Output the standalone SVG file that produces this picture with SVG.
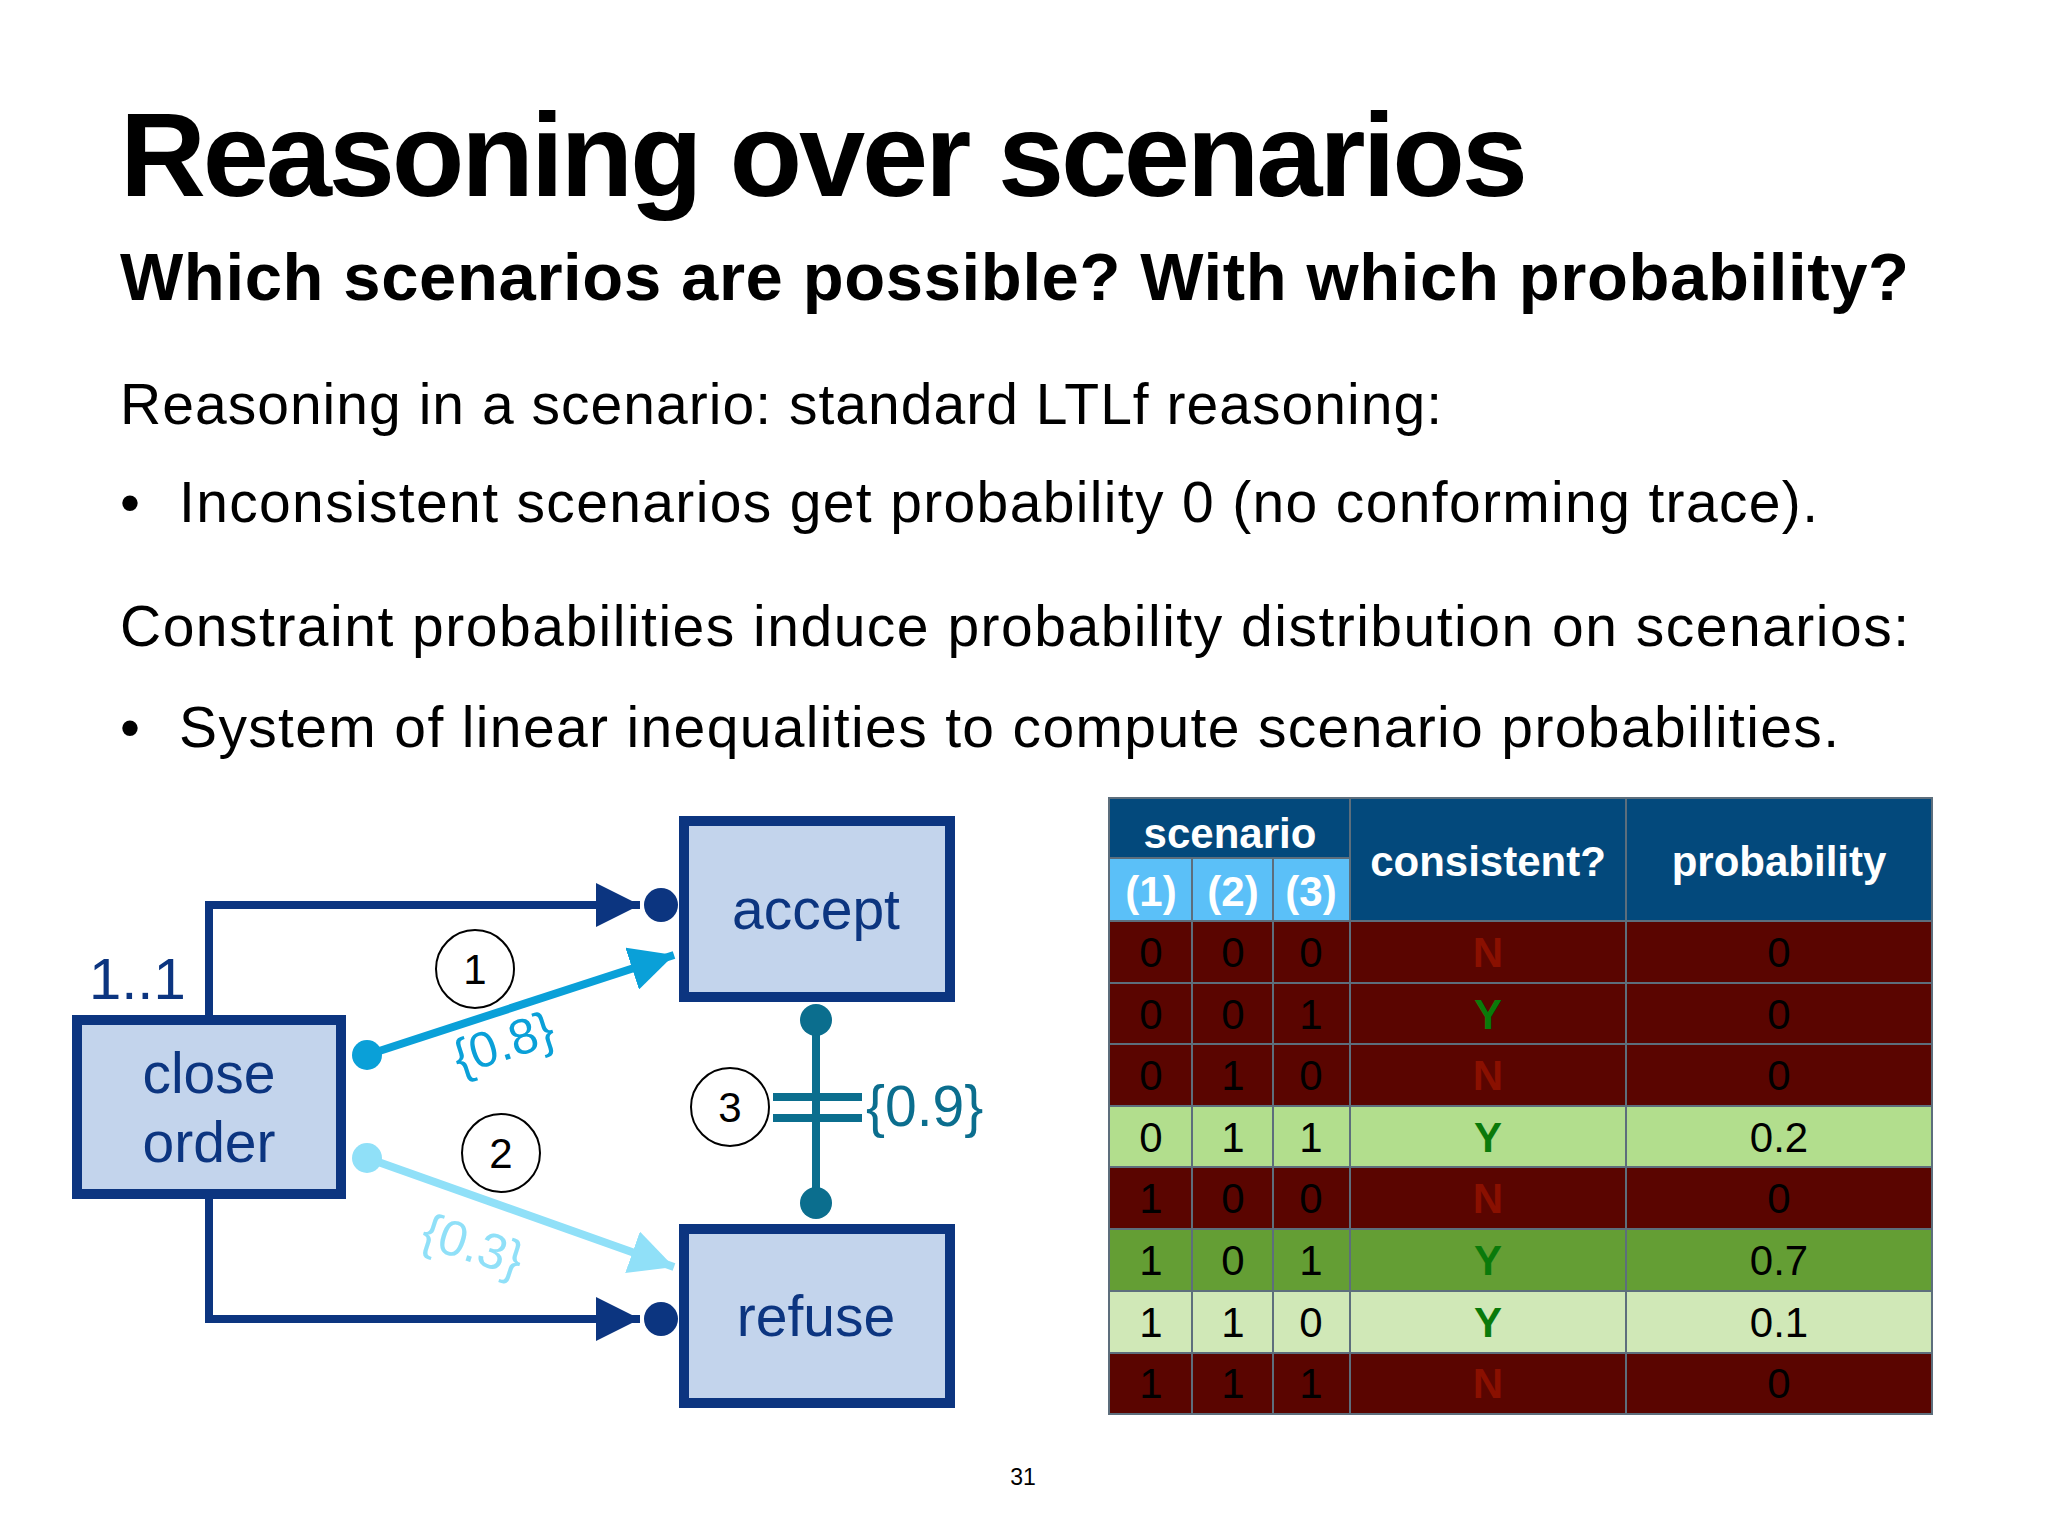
<svg xmlns="http://www.w3.org/2000/svg" width="2048" height="1536" viewBox="0 0 2048 1536">
<style>
text{font-family:"Liberation Sans",Arial,sans-serif}
.b{font-weight:bold}
.box{fill:#c3d4ec;stroke:#0c3580;stroke-width:10}
.nl{font-size:57px;fill:#0c3580;text-anchor:middle}
.dk{stroke:#0c3580;stroke-width:8;fill:none}
.circ{fill:#fff;stroke:#000;stroke-width:2}
.cn{font-size:42px;text-anchor:middle;fill:#000}
.tc{font-size:42px;text-anchor:middle}
.th{font-size:42px;fill:#fff;text-anchor:middle;font-weight:bold}
.grid{stroke:#5d6e7c;stroke-width:2;fill:none}
</style>
<defs>
<marker id="ad" viewBox="0 0 10 10" refX="10" refY="5" markerWidth="5.5" markerHeight="5.5" markerUnits="strokeWidth" orient="auto"><path d="M0,0L10,5L0,10z" fill="#0c3580"/></marker>
<marker id="a1" viewBox="0 0 10 10" refX="10" refY="5" markerWidth="5.5" markerHeight="5.5" markerUnits="strokeWidth" orient="auto"><path d="M0,0L10,5L0,10z" fill="#0aa0d8"/></marker>
<marker id="a2" viewBox="0 0 10 10" refX="10" refY="5" markerWidth="5.5" markerHeight="5.5" markerUnits="strokeWidth" orient="auto"><path d="M0,0L10,5L0,10z" fill="#90e0f8"/></marker>
</defs>

<text class="b" x="120" y="196" font-size="119" textLength="1408">Reasoning over scenarios</text>
<text class="b" x="120" y="300" font-size="67" textLength="1789">Which scenarios are possible? With which probability?</text>
<text x="120" y="424" font-size="57" textLength="1322">Reasoning in a scenario: standard LTLf reasoning:</text>
<text x="120" y="522" font-size="57">•</text>
<text x="179" y="522" font-size="57" textLength="1639">Inconsistent scenarios get probability 0 (no conforming trace).</text>
<text x="120" y="646" font-size="57" textLength="1789">Constraint probabilities induce probability distribution on scenarios:</text>
<text x="120" y="747" font-size="57">•</text>
<text x="179" y="747" font-size="57" textLength="1660">System of linear inequalities to compute scenario probabilities.</text>

<g id="connectors">
<polyline class="dk" points="209,1015 209,905 640,905" marker-end="url(#ad)"/>
<circle cx="661" cy="905" r="17" fill="#0c3580"/>
<polyline class="dk" points="209,1199 209,1319 640,1319" marker-end="url(#ad)"/>
<circle cx="661" cy="1319" r="17" fill="#0c3580"/>
<line x1="367" y1="1055" x2="674" y2="955" stroke="#0aa0d8" stroke-width="8" marker-end="url(#a1)"/>
<circle cx="367" cy="1055" r="15" fill="#0aa0d8"/>
<line x1="367" y1="1158" x2="674" y2="1267" stroke="#90e0f8" stroke-width="8" marker-end="url(#a2)"/>
<circle cx="367" cy="1158" r="15" fill="#90e0f8"/>
<line x1="816" y1="1020" x2="816" y2="1203" stroke="#0b6e8e" stroke-width="8"/>
<circle cx="816" cy="1020" r="16" fill="#0b6e8e"/>
<circle cx="816" cy="1203" r="16" fill="#0b6e8e"/>
<line x1="773" y1="1097" x2="862" y2="1097" stroke="#0b6e8e" stroke-width="8"/>
<line x1="773" y1="1118" x2="862" y2="1118" stroke="#0b6e8e" stroke-width="8"/>
<text x="504" y="1060" font-size="50" fill="#0aa0d8" text-anchor="middle" transform="rotate(-18 504 1045)">{0.8}</text>
<text x="473" y="1262" font-size="50" fill="#90e0f8" text-anchor="middle" transform="rotate(18 473 1245)">{0.3}</text>
<text x="866" y="1126" font-size="57" fill="#0b6e8e">{0.9}</text>
<circle class="circ" cx="475" cy="969" r="39"/><text class="cn" x="475" y="984">1</text>
<circle class="circ" cx="501" cy="1153" r="39"/><text class="cn" x="501" y="1168">2</text>
<circle class="circ" cx="730" cy="1107" r="39"/><text class="cn" x="730" y="1122">3</text>
<text x="89" y="999" font-size="58" fill="#0c3580">1..1</text>
</g>

<g id="accept"><rect class="box" x="684" y="821" width="266" height="176"/><text class="nl" x="816" y="929">accept</text></g>
<g id="refuse"><rect class="box" x="684" y="1229" width="266" height="174"/><text class="nl" x="816" y="1336">refuse</text></g>
<g id="close-order"><rect class="box" x="77" y="1020" width="264" height="174"/><text class="nl" x="209" y="1093">close</text><text class="nl" x="209" y="1162">order</text></g>

<g id="table">
<rect x="1109" y="798" width="823" height="123" fill="#03497c"/>
<rect x="1109" y="858" width="241" height="63" fill="#5bc0f8"/>
<rect x="1109" y="921" width="823" height="62" fill="#5a0500"/>
<rect x="1109" y="983" width="823" height="61" fill="#5a0500"/>
<rect x="1109" y="1044" width="823" height="62" fill="#5a0500"/>
<rect x="1109" y="1106" width="823" height="61" fill="#b2de8d"/>
<rect x="1109" y="1167" width="823" height="62" fill="#5a0500"/>
<rect x="1109" y="1229" width="823" height="62" fill="#649e34"/>
<rect x="1109" y="1291" width="823" height="62" fill="#d0e8b7"/>
<rect x="1109" y="1353" width="823" height="61" fill="#5a0500"/>
<path class="grid" d="M1109,798H1932V1414H1109Z M1350,798V1414 M1626,798V1414 M1192,858V1414 M1273,858V1414 M1109,858H1350 M1109,921H1932 M1109,983H1932 M1109,1044H1932 M1109,1106H1932 M1109,1167H1932 M1109,1229H1932 M1109,1291H1932 M1109,1353H1932"/>
<text class="th" x="1230" y="848">scenario</text>
<text class="th" x="1488" y="876">consistent?</text>
<text class="th" x="1779" y="876">probability</text>
<text class="th" x="1151" y="906" font-size="36">(1)</text>
<text class="th" x="1233" y="906" font-size="36">(2)</text>
<text class="th" x="1311" y="906" font-size="36">(3)</text>
<g class="tc" fill="#000">
<text x="1151" y="967">0</text><text x="1233" y="967">0</text><text x="1311" y="967">0</text><text x="1779" y="967">0</text>
<text x="1151" y="1029">0</text><text x="1233" y="1029">0</text><text x="1311" y="1029">1</text><text x="1779" y="1029">0</text>
<text x="1151" y="1090">0</text><text x="1233" y="1090">1</text><text x="1311" y="1090">0</text><text x="1779" y="1090">0</text>
<text x="1151" y="1152">0</text><text x="1233" y="1152">1</text><text x="1311" y="1152">1</text><text x="1779" y="1152">0.2</text>
<text x="1151" y="1213">1</text><text x="1233" y="1213">0</text><text x="1311" y="1213">0</text><text x="1779" y="1213">0</text>
<text x="1151" y="1275">1</text><text x="1233" y="1275">0</text><text x="1311" y="1275">1</text><text x="1779" y="1275">0.7</text>
<text x="1151" y="1337">1</text><text x="1233" y="1337">1</text><text x="1311" y="1337">0</text><text x="1779" y="1337">0.1</text>
<text x="1151" y="1398">1</text><text x="1233" y="1398">1</text><text x="1311" y="1398">1</text><text x="1779" y="1398">0</text>
</g>
<g class="tc b">
<text x="1488" y="967" fill="#8a1000">N</text>
<text x="1488" y="1029" fill="#0a7a0a">Y</text>
<text x="1488" y="1090" fill="#8a1000">N</text>
<text x="1488" y="1152" fill="#0a7a0a">Y</text>
<text x="1488" y="1213" fill="#8a1000">N</text>
<text x="1488" y="1275" fill="#0a7a0a">Y</text>
<text x="1488" y="1337" fill="#0a7a0a">Y</text>
<text x="1488" y="1398" fill="#8a1000">N</text>
</g>
</g>
<text x="1023" y="1485" font-size="23" text-anchor="middle">31</text>
</svg>
